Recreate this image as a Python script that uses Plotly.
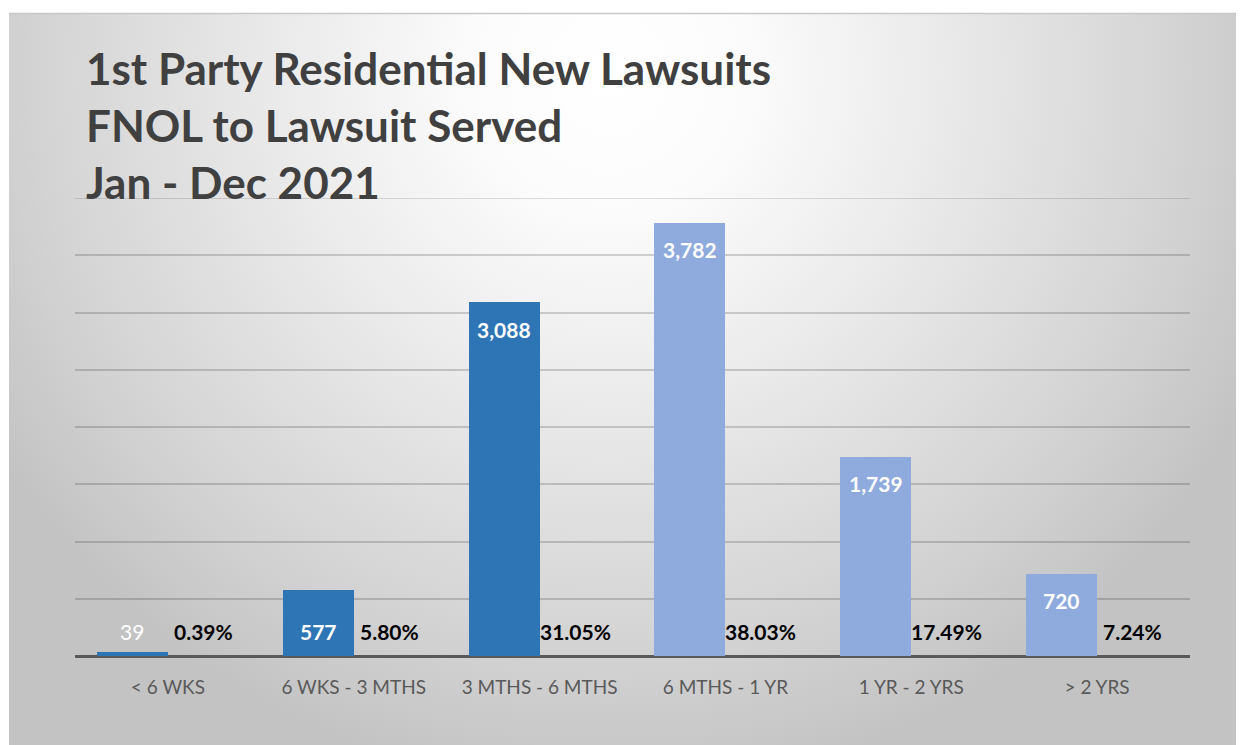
import base64
import plotly.graph_objects as go

categories = ["< 6 WKS", "6 WKS - 3 MTHS", "3 MTHS - 6 MTHS", "6 MTHS - 1 YR", "1 YR - 2 YRS", "> 2 YRS"]
counts = [39, 577, 3088, 3782, 1739, 720]
percents = ["0.39%", "5.80%", "31.05%", "38.03%", "17.49%", "7.24%"]
bar_colors = ["#2E75B6", "#2E75B6", "#2E75B6", "#8FAADC", "#8FAADC", "#8FAADC"]
title_lines = ["1st Party Residential New Lawsuits", "FNOL to Lawsuit Served", "Jan - Dec 2021"]

# page has an 8px default body margin; figure sized so that it fills the 1244x745 window
W, H = 1236, 737
L, R, T, B = 67, 54, 190, 89
pw, ph = W - L - R, H - T - B
BW = 0.382
SHORT = 600
FONT = "Lato"


def px_x(px):
    return (px - L) / pw


def px_y(py):
    return (H - B - py) / ph


x_bar = [i - BW / 2 for i in range(len(categories))]
x_pct = [i + BW / 2 for i in range(len(categories))]

fig = go.Figure()
fig.add_trace(go.Bar(
    x=x_bar, y=counts, width=BW, marker=dict(color=bar_colors, line=dict(width=0)),
    hoverinfo="skip", showlegend=False,
))

annotations = []
for xb, xp, v, p in zip(x_bar, x_pct, counts, percents):
    annotations.append(dict(x=xp, y=0, xref="x", yref="y", text=f"<b>{p}</b>", showarrow=False,
                            yanchor="middle", yshift=25, font=dict(family=FONT, size=21, color="#000000")))
    if v < SHORT:
        txt = f"{v:,}" if v < 100 else f"<b>{v:,}</b>"
        annotations.append(dict(x=xb, y=0, xref="x", yref="y", text=txt, showarrow=False,
                                yanchor="middle", yshift=25, font=dict(family=FONT, size=21, color="#ffffff")))
    else:
        annotations.append(dict(x=xb, y=v, xref="x", yref="y", text=f"<b>{v:,}</b>", showarrow=False,
                                yanchor="middle", yshift=-27, font=dict(family=FONT, size=21, color="#ffffff")))

annotations.append(dict(x=px_x(76), y=px_y(32), xref="paper", yref="paper",
                        text="<br>".join(f"<b>{t}</b>" for t in title_lines),
                        showarrow=False, xanchor="left", yanchor="top", align="left",
                        font=dict(family=FONT, size=44, color="#404040")))

# background radial gradient as an svg image
ix, iy = 1, 6
iw, ih = W - ix, H - iy
svg = f'''<svg xmlns="http://www.w3.org/2000/svg" width="{iw}" height="{ih}" viewBox="0 0 {iw} {ih}" preserveAspectRatio="none">
<defs><radialGradient id="g" gradientUnits="userSpaceOnUse" cx="600" cy="60" r="720">
<stop offset="0" stop-color="#ffffff"/>
<stop offset="0.18" stop-color="#fcfcfc"/>
<stop offset="0.45" stop-color="#ebebeb"/>
<stop offset="0.8" stop-color="#d3d3d3"/>
<stop offset="1" stop-color="#c3c3c3"/>
</radialGradient></defs>
<rect x="0" y="0" width="{iw}" height="{ih}" fill="url(#g)"/>
</svg>'''
src = "data:image/svg+xml;base64," + base64.b64encode(svg.encode()).decode()

grid_color = "rgba(0,0,0,0.17)"
fig.update_layout(
    width=W, height=H,
    margin=dict(l=L, r=R, t=T, b=B, pad=0),
    paper_bgcolor="#ffffff", plot_bgcolor="rgba(0,0,0,0)",
    images=[dict(source=src, xref="paper", yref="paper",
                 x=px_x(ix), y=px_y(iy), sizex=iw / pw, sizey=ih / ph,
                 xanchor="left", yanchor="top", sizing="stretch", layer="below")],
    shapes=[
        dict(type="line", xref="paper", yref="paper", x0=px_x(ix), x1=px_x(W),
             y0=px_y(5.5), y1=px_y(5.5), line=dict(color="#c8c8c8", width=1.5)),
        dict(type="line", xref="paper", yref="y", x0=0, x1=1, y0=4000, y1=4000,
             line=dict(color=grid_color, width=1.5), layer="below"),
    ],
    annotations=annotations,
    xaxis=dict(range=[-0.5, len(categories) - 0.5], tickvals=list(range(len(categories))), ticktext=categories,
               showgrid=False, zeroline=False, showline=False, ticks="",
               tickfont=dict(family=FONT, size=19, color="#595959"), ticklabelstandoff=18),
    yaxis=dict(range=[0, 4000], dtick=500, showgrid=True, gridcolor=grid_color, gridwidth=1.5,
               showticklabels=False, zeroline=True, zerolinecolor="#595959", zerolinewidth=2.5, ticks=""),
    bargap=0,
)
fig.write_html("out.html")
